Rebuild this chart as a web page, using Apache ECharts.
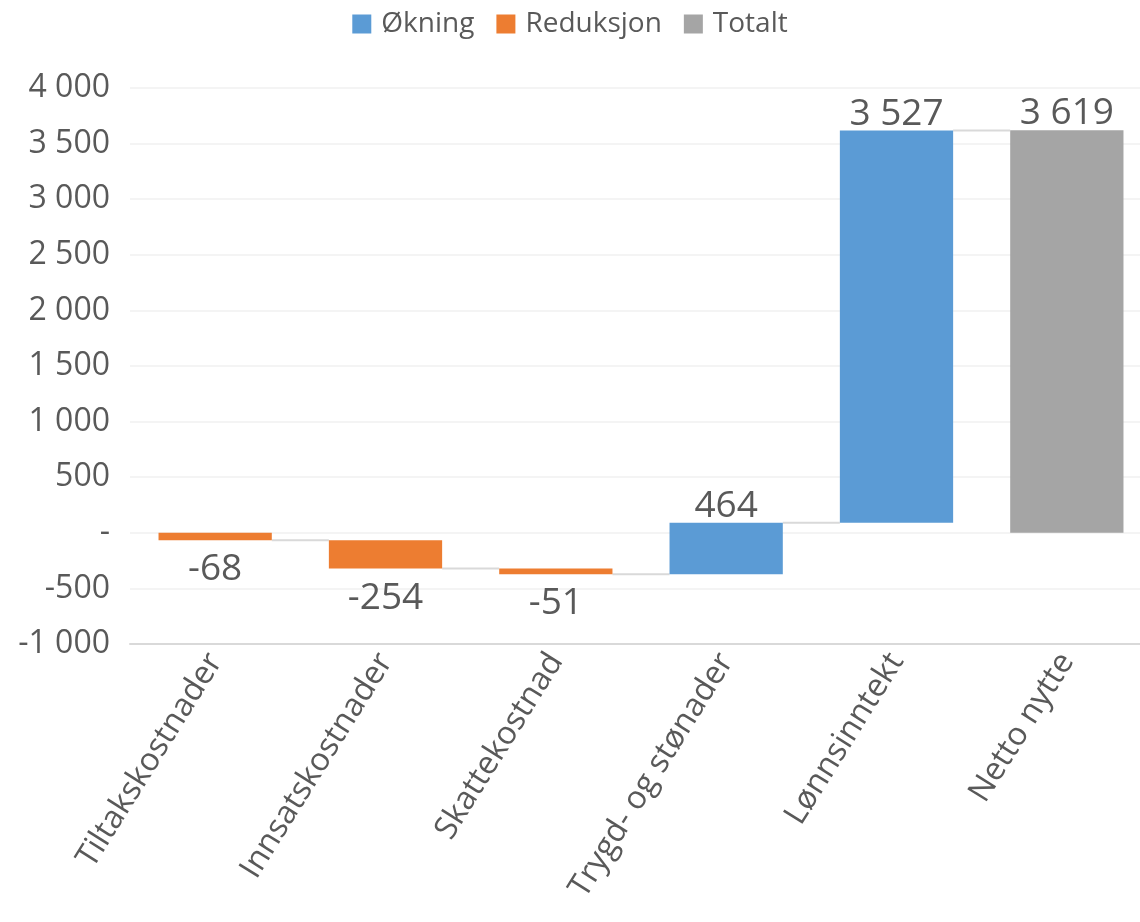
<!DOCTYPE html>
<html>
<head>
<meta charset="utf-8">
<script src="https://cdn.jsdelivr.net/npm/echarts@6/dist/echarts.min.js"></script>
<style>
  html, body { margin: 0; padding: 0; background: #fff; }
  #chart { width: 1140px; height: 922px; }
</style>
</head>
<body>
<div id="chart"></div>
<script>
// waterfall data
const categories = ['Tiltakskostnader', 'Innsatskostnader', 'Skattekostnad', 'Trygd- og stønader', 'Lønnsinntekt', 'Netto nytte']
const steps = [-68, -254, -51, 464, 3527]
const total = 3619
const legendNames = ['Økning', 'Reduksjon', 'Totalt']

const yMin = -1000
const yMax = 4000
const yStep = 500

const textColor = '#595959'
const font = '"Open Sans", "Liberation Sans", sans-serif'

function fmt(v) {
  if (v === 0) return '-'
  const s = Math.abs(v).toString().replace(/\B(?=(\d{3})+(?!\d))/g, ' ')
  return (v < 0 ? '-' : '') + s
}

// build floating ranges from the running sum
const upData = []
const downData = []
const connData = []
let run = 0
steps.forEach((v, i) => {
  const start = run
  run += v
  const item = [i, start, run, v]
  if (v >= 0) upData.push(item)
  else downData.push(item)
  connData.push([i, run])
})
const totalData = [[steps.length, 0, total, total]]

const BAR_RATIO = 0.665

function renderBar(params, api) {
  const idx = api.value(0)
  const lo = api.value(1)
  const hi = api.value(2)
  const v = api.value(3)
  const w = api.size([1, 0])[0] * BAR_RATIO
  const p1 = api.coord([idx, Math.max(lo, hi)])
  const p2 = api.coord([idx, Math.min(lo, hi)])
  const neg = v < 0
  return {
    type: 'group',
    children: [{
      type: 'rect',
      shape: { x: p1[0] - w / 2, y: p1[1], width: w, height: Math.max(p2[1] - p1[1], 1) },
      style: { fill: api.visual('color') }
    }, {
      type: 'text',
      style: {
        text: fmt(v),
        x: p1[0],
        y: neg ? p2[1] + 11 : p1[1] + 2,
        align: 'center',
        verticalAlign: neg ? 'top' : 'bottom',
        font: '37px ' + font,
        fill: textColor
      }
    }]
  }
}

function renderConn(params, api) {
  const idx = api.value(0)
  const lvl = api.value(1)
  const w = api.size([1, 0])[0] * BAR_RATIO
  const a = api.coord([idx, lvl])
  const b = api.coord([idx + 1, lvl])
  return {
    type: 'line',
    shape: { x1: a[0] + w / 2, y1: a[1], x2: b[0] - w / 2, y2: b[1] },
    style: { stroke: '#d9d9d9', lineWidth: 2 }
  }
}

const chart = echarts.init(document.getElementById('chart'))
chart.setOption({
  animation: false,
  legend: {
    data: legendNames,
    top: 5,
    left: 'center',
    icon: 'rect',
    itemWidth: 19,
    itemHeight: 19,
    itemGap: 22,
    textStyle: { fontSize: 28, color: textColor, fontFamily: font, padding: [0, 0, 0, 5] }
  },
  grid: { left: 130, top: 88, width: 1022, bottom: 278, outerBoundsMode: 'none' },
  xAxis: {
    type: 'category',
    data: categories,
    axisTick: { show: false },
    axisLine: { onZero: false, lineStyle: { color: '#d9d9d9', width: 2 } },
    axisLabel: {
      interval: 0,
      rotate: 58,
      margin: 12,
      fontSize: 32,
      color: textColor,
      fontFamily: font
    }
  },
  yAxis: {
    type: 'value',
    min: yMin,
    max: yMax,
    interval: yStep,
    axisLine: { show: false },
    axisTick: { show: false },
    splitLine: { lineStyle: { color: '#f0f0f0', width: 1.5 } },
    axisLabel: {
      margin: 20,
      fontSize: 32,
      color: textColor,
      fontFamily: font,
      formatter: fmt
    }
  },
  series: [{
    name: 'Økning',
    type: 'custom',
    renderItem: renderBar,
    itemStyle: { color: '#5b9bd5' },
    encode: { x: 0, y: [1, 2] },
    data: upData,
    z: 3
  }, {
    name: 'Reduksjon',
    type: 'custom',
    renderItem: renderBar,
    itemStyle: { color: '#ed7d31' },
    encode: { x: 0, y: [1, 2] },
    data: downData,
    z: 3
  }, {
    name: 'Totalt',
    type: 'custom',
    renderItem: renderBar,
    itemStyle: { color: '#a5a5a5' },
    encode: { x: 0, y: [1, 2] },
    data: totalData,
    z: 3
  }, {
    name: 'conn',
    type: 'custom',
    renderItem: renderConn,
    encode: { x: 0, y: 1 },
    data: connData,
    silent: true,
    z: 2
  }]
})
window.addEventListener('resize', chart.resize)
</script>
</body>
</html>
